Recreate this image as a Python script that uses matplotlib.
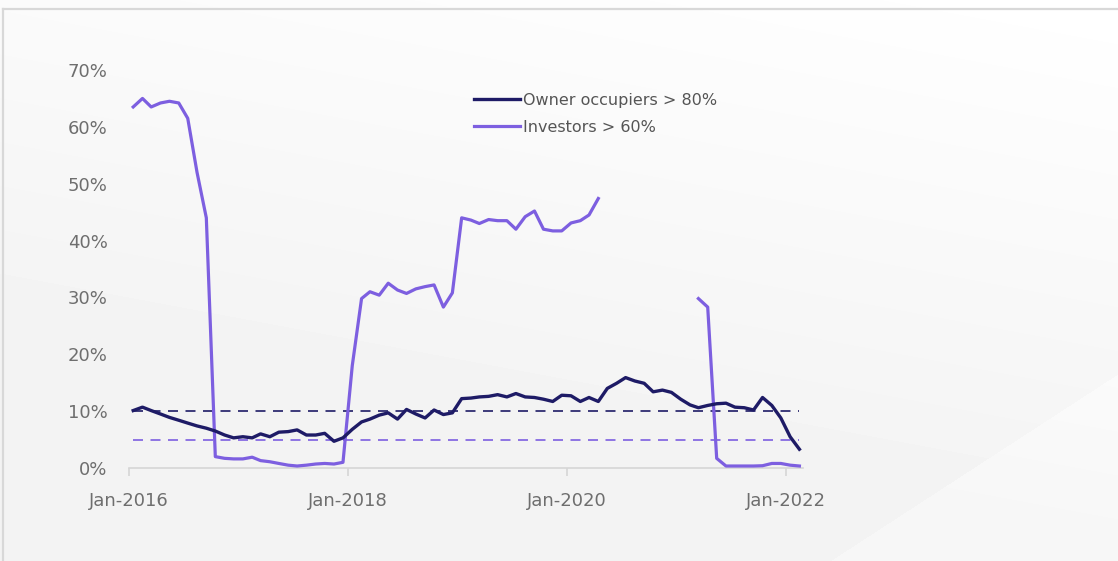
import numpy as np
import pandas as pd
import matplotlib
matplotlib.use("Agg")
import matplotlib.pyplot as plt
import matplotlib.dates as mdates
from matplotlib.lines import Line2D

# monthly data, Jan-2016 .. Feb-2022 (share of new lending, %)
months = pd.date_range("2016-01-01", periods=74, freq="MS") + pd.Timedelta(days=14)

owner_occ = [10.1, 10.7, 10.1, 9.5, 8.9, 8.4, 7.9, 7.4, 7.0, 6.5,
             5.8, 5.3, 5.5, 5.3, 6.0, 5.5, 6.3, 6.4, 6.7, 5.8,
             5.8, 6.1, 4.7, 5.3, 6.8, 8.1, 8.6, 9.3, 9.7, 8.6,
             10.3, 9.5, 8.8, 10.2, 9.4, 9.7, 12.2, 12.3, 12.5, 12.6,
             12.9, 12.5, 13.1, 12.5, 12.4, 12.1, 11.7, 12.8, 12.7, 11.7,
             12.4, 11.7, 14.0, 14.9, 15.9, 15.3, 14.9, 13.4, 13.7, 13.3,
             12.1, 11.1, 10.6, 11.0, 11.3, 11.4, 10.7, 10.6, 10.2, 12.4,
             11.0, 8.8, 5.5, 3.3]

investors = [63.5, 65.0, 63.5, 64.2, 64.5, 64.2, 61.5, 52.0, 44.0, 2.0,
             1.7, 1.6, 1.6, 1.9, 1.3, 1.1, 0.8, 0.5, 0.35, 0.5,
             0.7, 0.8, 0.7, 1.0, 18.0, 29.8, 31.0, 30.4, 32.5, 31.3,
             30.7, 31.5, 31.9, 32.2, 28.3, 30.8, 44.0, 43.6, 43.0, 43.7,
             43.5, 43.5, 42.0, 44.2, 45.2, 42.0, 41.7, 41.7, 43.1, 43.5,
             44.5, 47.4, None, None, None, None, None, None, None, None,
             None, None, 29.8, 28.3, 1.7, 0.35, 0.35, 0.35, 0.35, 0.4,
             0.8, 0.8, 0.5, 0.35]
investors = np.array([np.nan if v is None else v for v in investors])

owner_limit = 10
investor_limit = 5

navy = "#1e1b66"
purple = "#7d5fe0"

fig = plt.figure(figsize=(11.18, 5.61), dpi=100)

# soft grey background
bg = fig.add_axes([0, 0, 1, 1], zorder=-10)
yy, xx = np.mgrid[0:561, 0:1118]
shade = 1.0 - 0.05 * np.clip(yy / 561 + (1118 - xx) / 3000, 0, 1)
tri = (561 - yy) < (xx - 830) * 0.65
shade[tri] = np.minimum(shade[tri] + 0.015, 0.985)
bg.imshow(shade, cmap="gray", vmin=0, vmax=1, aspect="auto", interpolation="bilinear")
bg.axis("off")

fig.add_artist(Line2D([3 / 1118, 3 / 1118], [0, 1 - 9 / 561], color="#d8d8d8", lw=1.6))
fig.add_artist(Line2D([3 / 1118, 1], [1 - 9 / 561, 1 - 9 / 561], color="#d8d8d8", lw=1.6))

ax = fig.add_axes([129 / 1118, 93 / 561, 674 / 1118, 398 / 561])
ax.patch.set_alpha(0)

ax.plot(months, owner_occ, color=navy, lw=2.4, label="Owner occupiers > 80%", zorder=4)
ax.plot(months, investors, color=purple, lw=2.3, label="Investors > 60%", zorder=3)
ax.plot(months, [owner_limit] * len(months), color=navy, lw=1.2, ls=(0, (6, 4.5)), zorder=2)
ax.plot(months, [investor_limit] * len(months), color=purple, lw=1.2, ls=(0, (6, 4.5)), zorder=2)

ax.set_ylim(0, 70)
ax.set_yticks(range(0, 71, 10))
ax.set_yticklabels([f"{v}%" for v in range(0, 71, 10)])
ax.set_xlim(pd.Timestamp("2016-01-01"), pd.Timestamp("2022-02-27"))
ax.set_xticks([pd.Timestamp(f"{y}-01-01") for y in (2016, 2018, 2020, 2022)])
ax.xaxis.set_major_formatter(mdates.DateFormatter("%b-%Y"))

for s in ["top", "right", "left"]:
    ax.spines[s].set_visible(False)
ax.spines["bottom"].set_color("#d6d6d6")
ax.spines["bottom"].set_linewidth(1.2)
ax.tick_params(axis="x", colors="#d6d6d6", length=6, width=1.2, pad=11,
               labelcolor="#6e6e6e", labelsize=13)
ax.tick_params(axis="y", length=0, pad=15.5, labelcolor="#6e6e6e", labelsize=13)

leg = ax.legend(loc="upper left", bbox_to_anchor=(474 / 1118, 1 - 93 / 561),
                bbox_transform=fig.transFigure, frameon=False, fontsize=11.5,
                handlelength=2.9, handletextpad=0.15, labelspacing=0.75,
                borderpad=0, borderaxespad=0)
for t in leg.get_texts():
    t.set_color("#555555")

fig.savefig("out.png", dpi=100)
